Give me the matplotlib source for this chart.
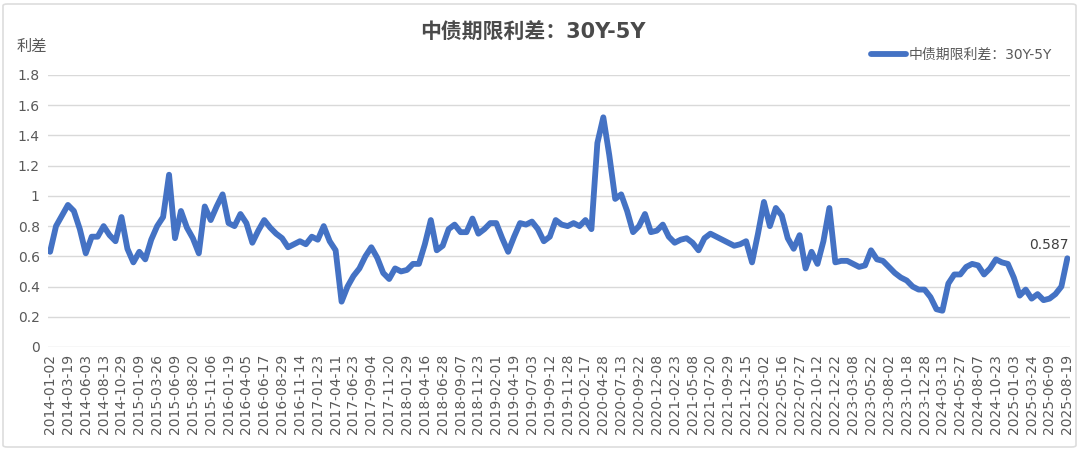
import matplotlib
matplotlib.use("Agg")
import matplotlib.pyplot as plt
from matplotlib.patches import FancyBboxPatch

plt.rcParams['font.family'] = ['DejaVu Sans', 'Noto Sans CJK SC']

title = "中债期限利差：30Y-5Y"
series_name = "中债期限利差：30Y-5Y"
y_label = "利差"

tick_labels = [
    "2014-01-02", "2014-03-19", "2014-06-03", "2014-08-13", "2014-10-29",
    "2015-01-09", "2015-03-26", "2015-06-09", "2015-08-20", "2015-11-06",
    "2016-01-19", "2016-04-05", "2016-06-17", "2016-08-29", "2016-11-14",
    "2017-01-23", "2017-04-11", "2017-06-23", "2017-09-04", "2017-11-20",
    "2018-01-29", "2018-04-16", "2018-06-28", "2018-09-07", "2018-11-23",
    "2019-02-01", "2019-04-19", "2019-07-03", "2019-09-12", "2019-11-28",
    "2020-02-17", "2020-04-28", "2020-07-13", "2020-09-22", "2020-12-08",
    "2021-02-23", "2021-05-08", "2021-07-20", "2021-09-29", "2021-12-15",
    "2022-03-02", "2022-05-16", "2022-07-27", "2022-10-12", "2022-12-22",
    "2023-03-08", "2023-05-22", "2023-08-02", "2023-10-18", "2023-12-28",
    "2024-03-13", "2024-05-27", "2024-08-07", "2024-10-23", "2025-01-03",
    "2025-03-24", "2025-06-09", "2025-08-19",
]

# spread values sampled three times per labelled interval
spread = [
    0.63, 0.80, 0.87, 0.94, 0.90, 0.78, 0.62, 0.73, 0.73, 0.80,
    0.74, 0.70, 0.86, 0.65, 0.56, 0.63, 0.58, 0.71, 0.80, 0.86,
    1.14, 0.72, 0.90, 0.79, 0.72, 0.62, 0.93, 0.84, 0.93, 1.01,
    0.82, 0.80, 0.88, 0.82, 0.69, 0.77, 0.84, 0.79, 0.75, 0.72,
    0.66, 0.68, 0.70, 0.68, 0.73, 0.71, 0.80, 0.70, 0.64, 0.30,
    0.40, 0.47, 0.52, 0.60, 0.66, 0.59, 0.49, 0.45, 0.52, 0.50,
    0.51, 0.55, 0.55, 0.68, 0.84, 0.64, 0.67, 0.78, 0.81, 0.76,
    0.76, 0.85, 0.75, 0.78, 0.82, 0.82, 0.72, 0.63, 0.73, 0.82,
    0.81, 0.83, 0.78, 0.70, 0.73, 0.84, 0.81, 0.80, 0.82, 0.80,
    0.84, 0.78, 1.35, 1.52, 1.27, 0.98, 1.01, 0.90, 0.76, 0.80,
    0.88, 0.76, 0.77, 0.81, 0.73, 0.69, 0.71, 0.72, 0.69, 0.64,
    0.72, 0.75, 0.73, 0.71, 0.69, 0.67, 0.68, 0.70, 0.56, 0.75,
    0.96, 0.80, 0.92, 0.87, 0.72, 0.65, 0.74, 0.52, 0.63, 0.55,
    0.70, 0.92, 0.56, 0.57, 0.57, 0.55, 0.53, 0.54, 0.64, 0.58,
    0.57, 0.53, 0.49, 0.46, 0.44, 0.40, 0.38, 0.38, 0.33, 0.25,
    0.24, 0.42, 0.48, 0.48, 0.53, 0.55, 0.54, 0.48, 0.52, 0.58,
    0.56, 0.55, 0.46, 0.34, 0.38, 0.32, 0.35, 0.31, 0.32, 0.35,
    0.40, 0.587,
]

y_ticks = [0, 0.2, 0.4, 0.6, 0.8, 1, 1.2, 1.4, 1.6, 1.8]

step = 3
line_color = "#4472C4"
text_color = "#595959"
grid_color = "#d9d9d9"

fig = plt.figure(figsize=(10.8, 4.51), dpi=100)
ax = fig.add_axes([48/1080, 1-347/451, (1070-48)/1080, (347-75)/451])

x = list(range(len(spread)))
ax.plot(x, spread, color=line_color, lw=4.2, solid_joinstyle='round',
        solid_capstyle='round', label=series_name, zorder=3)

ax.set_xlim(-0.35, len(spread) - 1 + 0.45)
ax.set_ylim(0, 1.8)
ax.set_yticks(y_ticks)
ax.set_yticklabels([f"{v:g}" for v in y_ticks])
ax.set_xticks(range(0, len(spread), step))
ax.set_xticklabels(tick_labels, rotation=90)
ax.tick_params(axis='x', length=0, pad=5, labelsize=10, labelcolor=text_color)
ax.tick_params(axis='y', length=0, pad=6, labelsize=10, labelcolor=text_color)
ax.grid(axis='y', color=grid_color, lw=1, zorder=0)
ax.grid(axis='x', visible=False)
for s in ax.spines.values():
    s.set_visible(False)
ax.set_axisbelow(True)

# last value annotation
ax.annotate(f"{spread[-1]:.3f}", xy=(x[-1], spread[-1]), xytext=(1, 9.5),
            textcoords='offset points', ha='right', va='center',
            fontsize=10, color="#404040")

fig.text(533/1080, 1-33/451, title, ha='center', va='center',
         fontsize=15, fontweight='bold', color="#4a4a4a")
fig.text(17/1080, 1-46/451, y_label, ha='left', va='center',
         fontsize=11, color=text_color)

fig.legend(loc='center right', bbox_to_anchor=(1052/1080, 1-55/451),
           frameon=False, fontsize=10, handlelength=2.5, handletextpad=0.2,
           borderpad=0, borderaxespad=0, labelcolor=text_color)

border = FancyBboxPatch((3/1080, 4/451), 1073/1080, 443/451,
                        boxstyle="round,pad=0,rounding_size=0.004",
                        transform=fig.transFigure, fill=False,
                        edgecolor="#dddddd", lw=1.2)
fig.patches.append(border)

fig.savefig("out.png", dpi=100, facecolor="white")
